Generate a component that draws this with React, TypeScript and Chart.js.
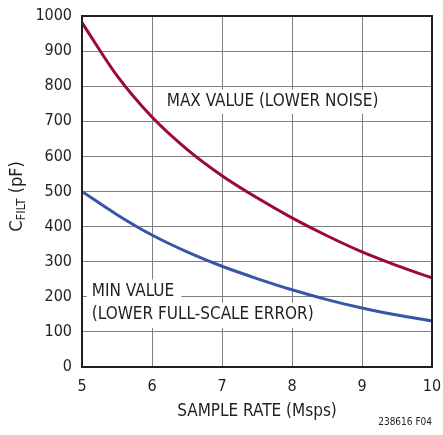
import { useEffect, useRef } from "react";
import { Chart, registerables } from "chart.js";

Chart.register(...registerables);

// ---- data ----
const sampleRate = [5, 5.5, 6, 6.5, 7, 7.5, 8, 8.5, 9, 9.5, 10];
const maxValue = [981, 830, 712, 620, 545, 482, 425, 374, 328, 289, 254];
const minValue = [500, 434, 376, 328, 287, 252, 220, 192, 168, 148, 131];
const xTickValues = [5, 6, 7, 8, 9, 10];
const yTickValues = [0, 100, 200, 300, 400, 500, 600, 700, 800, 900, 1000];

const xTitle = "SAMPLE RATE (Msps)";
const yTitleMain = "C";
const yTitleSub = "FILT";
const yTitleRest = " (pF)";
const maxLabel = "MAX VALUE (LOWER NOISE)";
const minLabelLines = ["MIN VALUE", "(LOWER FULL-SCALE ERROR)"];
const footer = "238616 F04";

// ---- styles ----
const FONT = '"DejaVu Sans Condensed", "Liberation Sans", sans-serif';
const TEXT = "#231f20";
const GRID = "#808080";
const RED = "#9b0a32";
const BLUE = "#3956a6";

// label anchors in data coordinates
const maxLabelAt = { x: 6.21, y: 756 };
const minLabelAt = { x: 5.14, y: [215, 148] };

const overlay = {
  id: "overlay",
  beforeDatasetsDraw(chart: any) {
    const { ctx, scales } = chart;
    const x = scales.x;
    const y = scales.y;
    ctx.save();
    ctx.font = `17px ${FONT}`;
    ctx.textBaseline = "middle";
    ctx.textAlign = "left";
    {
      const lx = x.getPixelForValue(maxLabelAt.x);
      const ly = y.getPixelForValue(maxLabelAt.y);
      const w = ctx.measureText(maxLabel).width;
      ctx.fillStyle = "#ffffff";
      ctx.fillRect(lx - 6, ly - 12, w + 12, 24);
      ctx.fillStyle = TEXT;
      ctx.fillText(maxLabel, lx, ly);
    }
    {
      const lx = x.getPixelForValue(minLabelAt.x);
      minLabelLines.forEach((t, i) => {
        const ly = y.getPixelForValue(minLabelAt.y[i]);
        const w = ctx.measureText(t).width;
        ctx.fillStyle = "#ffffff";
        ctx.fillRect(lx - 5, ly - 12, w + 12, 25);
      });
      minLabelLines.forEach((t, i) => {
        const ly = y.getPixelForValue(minLabelAt.y[i]);
        ctx.fillStyle = TEXT;
        ctx.fillText(t, lx, ly);
      });
    }
    ctx.restore();
  },
  afterDatasetsDraw(chart: any) {
    const { ctx, chartArea } = chart;
    ctx.save();
    ctx.strokeStyle = TEXT;
    ctx.lineWidth = 2;
    ctx.strokeRect(chartArea.left, chartArea.top, chartArea.right - chartArea.left, chartArea.bottom - chartArea.top);
    ctx.restore();
  },
  afterDraw(chart: any) {
    const { ctx, chartArea } = chart;
    ctx.save();
    const cx = 17;
    const cy = (chartArea.top + chartArea.bottom) / 2 + 5;
    ctx.translate(cx, cy);
    ctx.rotate(-Math.PI / 2);
    ctx.fillStyle = TEXT;
    ctx.textBaseline = "middle";
    ctx.textAlign = "left";
    const mainFont = `18px ${FONT}`;
    const subFont = `13px ${FONT}`;
    ctx.font = mainFont;
    const w1 = ctx.measureText(yTitleMain).width;
    const w3 = ctx.measureText(yTitleRest).width;
    ctx.font = subFont;
    const w2 = ctx.measureText(yTitleSub).width;
    let px = -(w1 + w2 + w3) / 2;
    ctx.font = mainFont;
    ctx.fillText(yTitleMain, px, 0);
    px += w1;
    ctx.font = subFont;
    ctx.fillText(yTitleSub, px, 5);
    px += w2;
    ctx.font = mainFont;
    ctx.fillText(yTitleRest, px, 0);
    ctx.restore();

    ctx.save();
    ctx.font = `10px ${FONT}`;
    ctx.fillStyle = TEXT;
    ctx.textAlign = "right";
    ctx.textBaseline = "middle";
    ctx.fillText(footer, chartArea.right, 422);
    ctx.restore();
  },
};

export default function App() {
  const ref = useRef<HTMLCanvasElement | null>(null);

  useEffect(() => {
    if (!ref.current) return;
    const chart = new Chart(ref.current, {
      type: "line",
      data: {
        datasets: [
          {
            label: "MAX",
            data: sampleRate.map((s, i) => ({ x: s, y: maxValue[i] })),
            borderColor: RED,
            borderWidth: 3,
            pointRadius: 0,
            tension: 0.4,
            cubicInterpolationMode: "monotone",
            fill: false,
          },
          {
            label: "MIN",
            data: sampleRate.map((s, i) => ({ x: s, y: minValue[i] })),
            borderColor: BLUE,
            borderWidth: 3,
            pointRadius: 0,
            tension: 0.4,
            cubicInterpolationMode: "monotone",
            fill: false,
          },
        ],
      },
      options: {
        animation: false,
        responsive: true,
        maintainAspectRatio: false,
        layout: { padding: { left: 0, top: 16, right: 11, bottom: 0 } },
        plugins: { legend: { display: false }, tooltip: { enabled: false } },
        scales: {
          x: {
            type: "linear",
            min: 5,
            max: 10,
            afterBuildTicks: (s: any) => {
              s.ticks = xTickValues.map((v) => ({ value: v }));
            },
            afterFit: (s: any) => {
              s.height = 68;
              s.paddingLeft = 0;
              s.paddingRight = 0;
            },
            grid: { color: GRID, lineWidth: 1, drawTicks: false },
            border: { display: false },
            ticks: {
              font: { family: FONT, size: 16 },
              color: TEXT,
              padding: 10,
              maxRotation: 0,
              autoSkip: false,
              callback: (v: any) => String(v),
            },
            title: {
              display: true,
              text: xTitle,
              font: { family: FONT, size: 17 },
              color: TEXT,
              padding: { top: 2, bottom: 13 },
            },
          },
          y: {
            type: "linear",
            min: 0,
            max: 1000,
            afterBuildTicks: (s: any) => {
              s.ticks = yTickValues.map((v) => ({ value: v }));
            },
            afterFit: (s: any) => {
              s.width = 82;
              s.paddingTop = 0;
              s.paddingBottom = 0;
            },
            grid: { color: GRID, lineWidth: 1, drawTicks: false },
            border: { display: false },
            ticks: {
              font: { family: FONT, size: 16 },
              color: TEXT,
              padding: 10,
              autoSkip: false,
              callback: (v: any) => String(v),
            },
          },
        },
      },
      plugins: [overlay],
    } as any);
    return () => chart.destroy();
  }, []);

  return (
    <div style={{ position: "absolute", left: 0, top: 0, width: 443, height: 435, background: "#fff" }}>
      <canvas ref={ref} />
    </div>
  );
}
